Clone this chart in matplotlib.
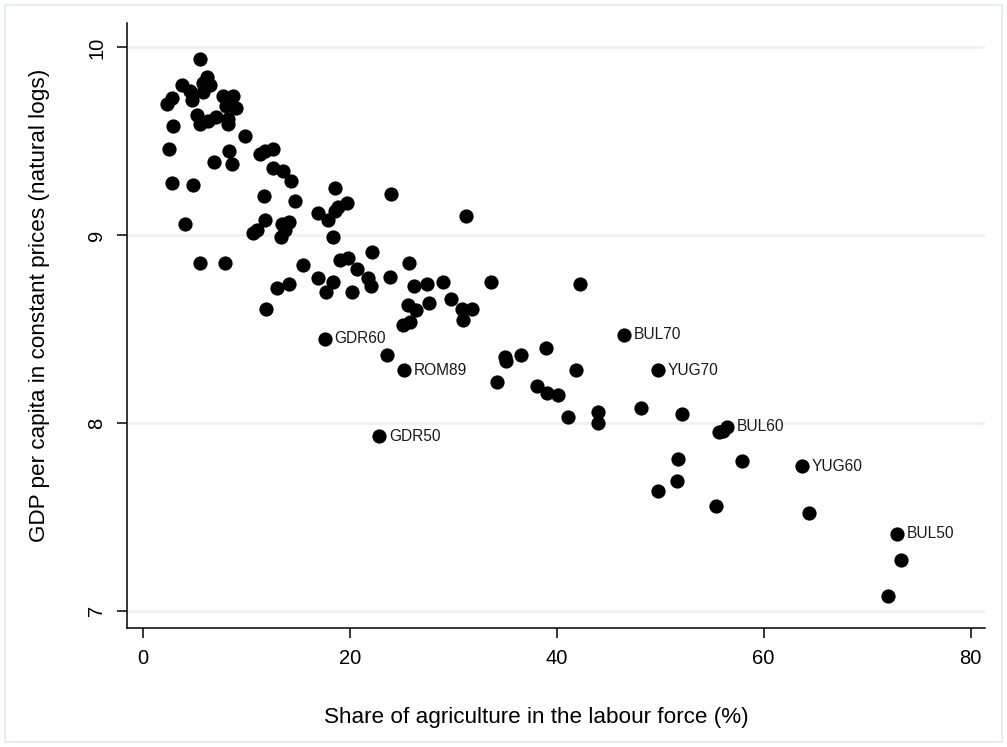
import matplotlib.pyplot as plt
from matplotlib.patches import Rectangle

plt.rcParams['font.family'] = ['Liberation Sans', 'DejaVu Sans']

# share of agriculture in labour force (%) and log GDP per capita
agri_share = [5.54, 6.18, 5.86, 6.50, 3.77, 4.57, 4.73, 5.86, 2.32, 2.80,
              7.79, 8.75, 8.05, 9.01, 5.28, 5.54, 6.34, 7.08, 8.27, 8.27,
              2.96, 9.88, 2.57, 8.37, 6.89, 8.60, 11.33, 11.82, 12.62, 12.56,
              13.58, 14.30, 2.80, 4.89, 11.75, 14.71, 18.58, 16.97, 4.09, 10.69,
              11.01, 11.82, 13.43, 14.16, 13.75, 13.33, 17.93, 19.06, 5.54, 7.95,
              15.46, 16.97, 18.36, 17.71, 12.95, 14.16, 11.88, 23.99, 31.24, 18.58,
              18.90, 19.71, 18.42, 19.86, 22.13, 20.73, 25.76, 23.89, 20.19, 21.80,
              22.03, 26.24, 27.44, 29.04, 33.62, 25.66, 26.41, 27.66, 29.79, 30.82,
              31.79, 30.92, 25.12, 25.83, 23.63, 42.25, 35.00, 35.10, 36.55, 38.97,
              41.87, 34.20, 38.13, 39.09, 40.15, 41.12, 43.96, 43.96, 48.14, 52.11,
              55.71, 56.04, 51.75, 57.93, 51.59, 49.76, 55.36, 64.38, 73.24, 72.04]
log_gdp = [9.94, 9.84, 9.81, 9.80, 9.80, 9.77, 9.72, 9.76, 9.70, 9.73,
           9.74, 9.74, 9.69, 9.68, 9.64, 9.59, 9.61, 9.63, 9.62, 9.59,
           9.58, 9.53, 9.46, 9.45, 9.39, 9.38, 9.43, 9.45, 9.46, 9.36,
           9.34, 9.29, 9.28, 9.27, 9.21, 9.18, 9.25, 9.12, 9.06, 9.01,
           9.03, 9.08, 9.06, 9.07, 9.03, 8.99, 9.08, 8.87, 8.85, 8.85,
           8.84, 8.77, 8.75, 8.70, 8.72, 8.74, 8.61, 9.22, 9.10, 9.13,
           9.15, 9.17, 8.99, 8.88, 8.91, 8.82, 8.85, 8.78, 8.70, 8.77,
           8.73, 8.73, 8.74, 8.75, 8.75, 8.63, 8.60, 8.64, 8.66, 8.61,
           8.61, 8.55, 8.52, 8.54, 8.36, 8.74, 8.35, 8.33, 8.36, 8.40,
           8.28, 8.22, 8.20, 8.16, 8.15, 8.03, 8.06, 8.00, 8.08, 8.05,
           7.95, 7.96, 7.81, 7.80, 7.69, 7.64, 7.56, 7.52, 7.27, 7.08]

# labelled country-years
lab_names = ['GDR60', 'ROM89', 'GDR50', 'BUL70', 'YUG70', 'BUL60', 'YUG60', 'BUL50']
lab_x = [17.61, 25.25, 22.86, 46.53, 49.76, 56.48, 63.67, 72.85]
lab_y = [8.45, 8.28, 7.93, 8.47, 8.28, 7.98, 7.77, 7.41]

x_ticks = [0, 20, 40, 60, 80]
y_ticks = [7, 8, 9, 10]

fig = plt.figure(figsize=(10.07, 7.47), dpi=100)
ax = fig.add_axes([127 / 1007, 1 - 628 / 747, 858 / 1007, 605 / 747])

ax.scatter(agri_share + lab_x, log_gdp + lab_y, s=105, color='black', zorder=3, linewidths=0)
for name, xv, yv in zip(lab_names, lab_x, lab_y):
    ax.annotate(name, (xv, yv), xytext=(7, 0), textcoords='offset points',
                va='center', ha='left', fontsize=11.2, color='#1a1a1a')

ax.set_xlim(-1.52, 81.4)
ax.set_ylim(6.909, 10.13)
ax.set_xticks(x_ticks)
ax.set_yticks(y_ticks)
ax.set_yticklabels([str(v) for v in y_ticks], rotation=90, va='center')
ax.tick_params(axis='both', labelsize=14.5, width=1.1, length=7, color='black')
ax.tick_params(axis='x', pad=8)
ax.tick_params(axis='y', pad=8)
ax.grid(axis='y', color='#eaf2f3', linewidth=2, zorder=0)
ax.set_axisbelow(True)
for side in ['top', 'right']:
    ax.spines[side].set_visible(False)
for side in ['left', 'bottom']:
    ax.spines[side].set_linewidth(1.1)

fig.text(536 / 1007, 1 - 717 / 747, 'Share of agriculture in the labour force (%)',
         ha='center', va='center', fontsize=16.2)
fig.text(40 / 1007, 1 - 305 / 747, 'GDP per capita in constant prices (natural logs)',
         ha='center', va='center', rotation=90, fontsize=16.2)

# light frame round the whole graph
fig.patches.append(Rectangle((5 / 1007, 5 / 747), 997 / 1007, 737 / 747,
                             transform=fig.transFigure, fill=False,
                             edgecolor='#e6edef', linewidth=1.5))

fig.savefig('out.png', dpi=100)
